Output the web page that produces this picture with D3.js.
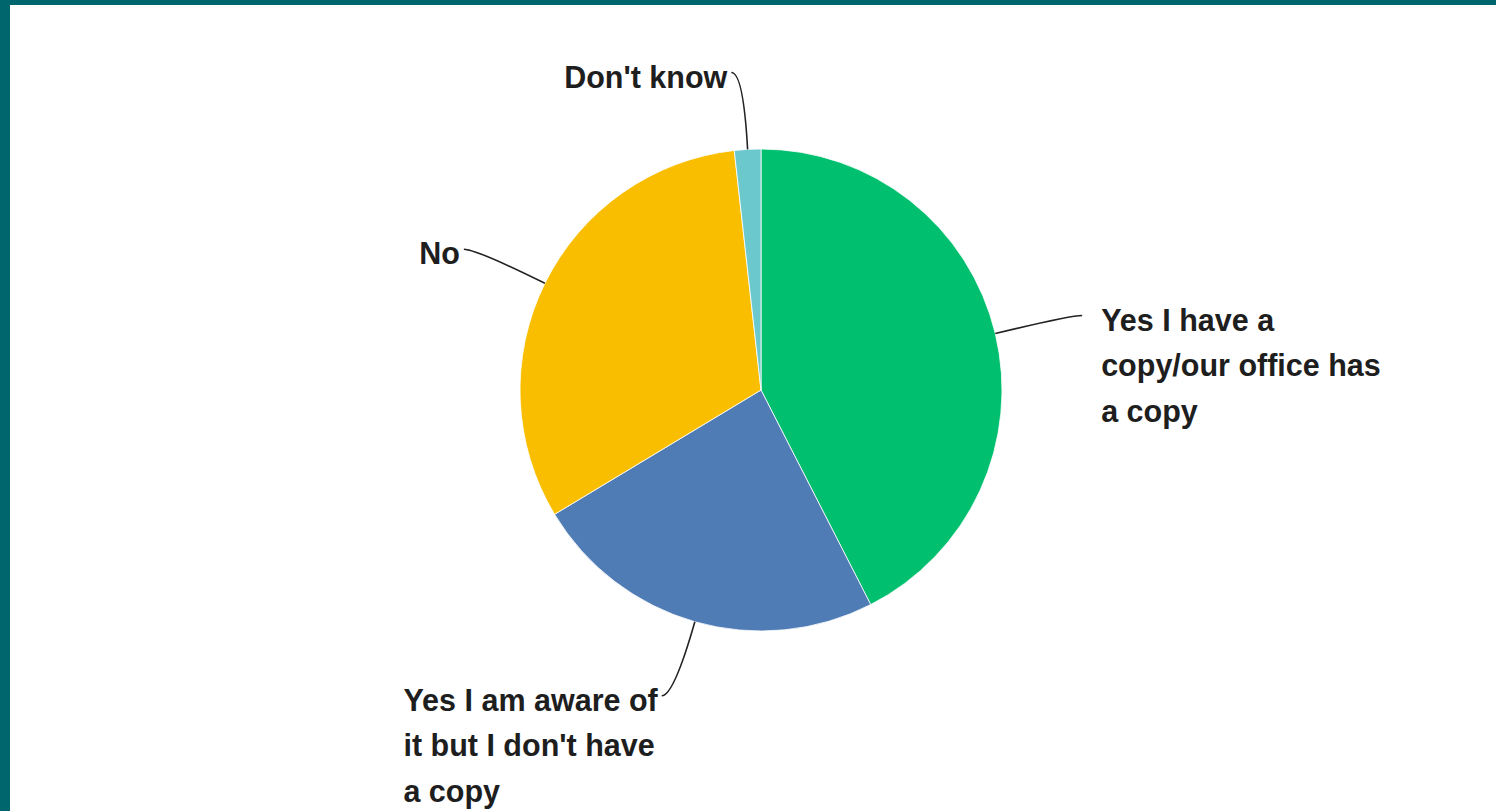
<!DOCTYPE html>
<html>
<head>
<meta charset="utf-8">
<script src="https://cdn.jsdelivr.net/npm/d3@7"></script>
<style>
  html, body { margin: 0; padding: 0; background: #fff; }
  svg { display: block; }
</style>
</head>
<body>
<svg id="chart" width="1496" height="811"></svg>
<script>
// ---- data ----
const categories = [
  "Yes I have a copy/our office has a copy",
  "Yes I am aware of it but I don't have a copy",
  "No",
  "Don't know"
];
const values = [48, 27, 36, 2];
const labelLines = [
  ["Yes I have a", "copy/our office has", "a copy"],
  ["Yes I am aware of", "it but I don't have", "a copy"],
  ["No"],
  ["Don't know"]
];
const colors = ["#00bf6f", "#507cb6", "#f9be00", "#6bc8cd"];

// ---- layout ----
const W = 1496, H = 811;
const cx = 761, cy = 390, R = 241;
const elbowR = 318;
const fontSize = 30.5, lineH = 45.5;

const svg = d3.select("#chart");
// frame
svg.append("rect").attr("x", 0).attr("y", 0).attr("width", W).attr("height", H).attr("fill", "#fff");
svg.append("rect").attr("x", 0).attr("y", 0).attr("width", 10).attr("height", H).attr("fill", "#00666e");
svg.append("rect").attr("x", 0).attr("y", 0).attr("width", W).attr("height", 5).attr("fill", "#00666e");

const data = categories.map((c, i) => ({ name: c, value: values[i], lines: labelLines[i], color: colors[i] }));
const pie = d3.pie().sort(null).value(d => d.value);
const arcs = pie(data);
const arc = d3.arc().innerRadius(0).outerRadius(R);

const g = svg.append("g").attr("transform", `translate(${cx},${cy})`);
g.selectAll("path.slice").data(arcs).join("path")
  .attr("class", "slice")
  .attr("d", arc)
  .attr("fill", d => d.data.color)
  .attr("stroke", "#fff")
  .attr("stroke-width", 0.8);

function polar(r, a) { return [r * Math.sin(a), -r * Math.cos(a)]; }

arcs.forEach(d => {
  const mid = (d.startAngle + d.endAngle) / 2;
  const p0 = polar(R, mid);
  const e = polar(elbowR, mid);
  const right = e[0] > 0;
  const dir = right ? 1 : -1;
  const p3 = [e[0] + dir * 12, e[1]];
  const path = d3.path();
  path.moveTo(p0[0], p0[1]);
  path.quadraticCurveTo(e[0], e[1], p3[0], p3[1]);
  g.append("path").attr("d", path.toString())
    .attr("fill", "none").attr("stroke", "#222").attr("stroke-width", 1.6);

  const t = g.append("text")
    .attr("font-family", "'Liberation Sans', Arial, sans-serif")
    .attr("font-weight", "bold")
    .attr("font-size", fontSize)
    .attr("fill", "#1e1e1e");
  const tsp = d.data.lines.map((ln, i) =>
    t.append("tspan").attr("y", p3[1] + 15 + i * lineH).text(ln));
  let x0;
  if (right) {
    x0 = p3[0] + 19;
  } else {
    const w = d3.max(tsp, s => s.node().getComputedTextLength());
    x0 = p3[0] - 4 - w;
  }
  tsp.forEach(s => s.attr("x", x0));
});
</script>
</body>
</html>
